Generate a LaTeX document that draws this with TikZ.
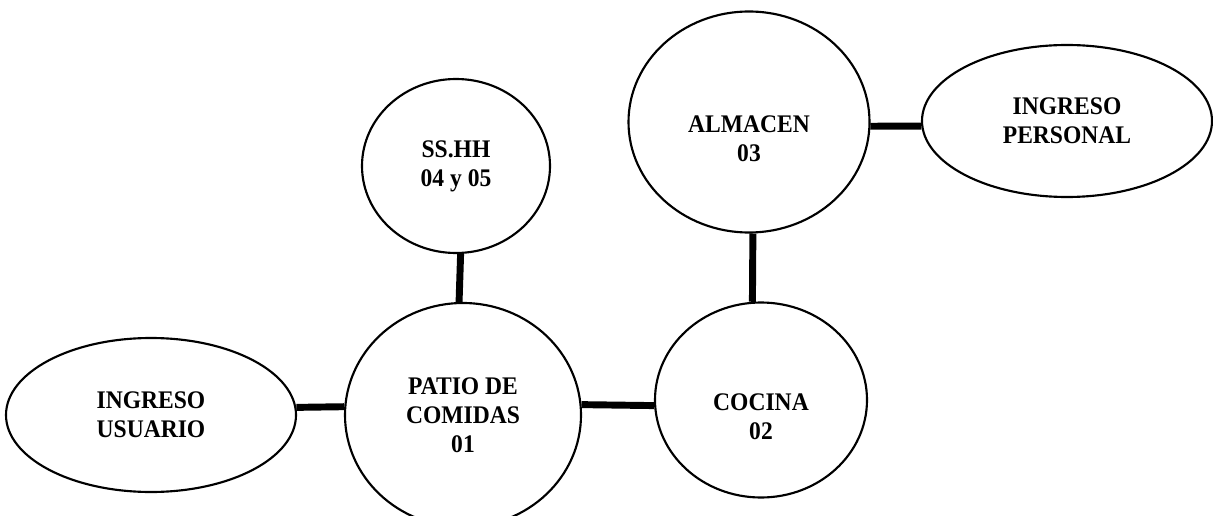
\documentclass[tikz,border=0pt]{standalone}
\usepackage{fontspec}
\setmainfont[FakeStretch=0.93]{Liberation Serif}
\usetikzlibrary{shapes.geometric}
\tikzset{
  room/.style={ellipse, draw, line width=1.6pt, inner sep=0pt, align=center,
    font=\fontsize{19}{21.75}\selectfont\bfseries},
  link/.style={line width=5.2pt},
}

\begin{document}
\begin{tikzpicture}[x=0.75pt, y=0.75pt]
  \useasboundingbox (0,0) rectangle (1213,515);
  % ambientes
  \node[room, minimum width=217.5pt, minimum height=115.5pt] (usuario) at (151,100) {INGRESO\\USUARIO};
  \node[room, minimum width=177pt, minimum height=168pt] (patio) at (463,100) {PATIO DE\\COMIDAS\\01};
  \node[room, minimum width=141pt, minimum height=130.5pt] (sshh) at (456,349) {SS.HH\\04 y 05};
  \node[room, minimum width=159pt, minimum height=146.25pt] (cocina) at (761,115) {\strut\\COCINA\\02};
  \node[room, minimum width=180.75pt, minimum height=165.75pt] (almacen) at (749,393) {\strut\\ALMACEN\\03};
  \node[room, minimum width=217.5pt, minimum height=114pt] (personal) at (1067,394) {INGRESO\\PERSONAL};
  % relaciones
  \draw[link] (usuario.3) -- (patio.176);
  \draw[link] (sshh.273) -- (patio.92);
  \draw[link] (patio.5) -- (cocina.183);
  \draw[link] (almacen.272) -- (cocina.95);
  \draw[link] (almacen.358) -- (personal.182);
\end{tikzpicture}
\end{document}
